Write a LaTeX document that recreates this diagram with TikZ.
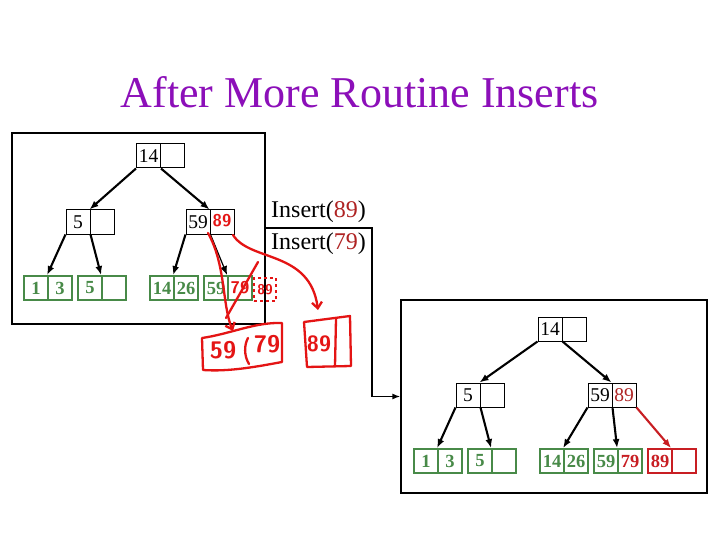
\documentclass[tikz,border=0pt]{standalone}
\usepackage{fontspec}
\setmainfont{Liberation Serif}
\usetikzlibrary{arrows.meta}
\definecolor{ttl}{RGB}{140,15,185}
\definecolor{lgreen}{RGB}{72,138,72}
\definecolor{tred}{RGB}{200,30,35}
\definecolor{dred}{RGB}{175,35,35}
\definecolor{hred}{RGB}{228,20,20}
\begin{document}
\begin{tikzpicture}[x=1pt,y=-1pt,
 cell/.style={draw=black,line width=1pt,minimum width=24pt,minimum height=24pt,inner sep=0pt,font=\fontsize{19.5}{19.5}\selectfont},
 leaf/.style={draw=lgreen,line width=1.8pt,text=lgreen,minimum width=24pt,minimum height=24pt,inner sep=0pt,font=\fontsize{18.5}{18.5}\selectfont\bfseries},
 rleaf/.style={leaf,draw=tred,text=tred},
 ptr/.style={line width=2.1pt,-{Latex[length=9pt,width=7pt]}},
 hand/.style={draw=hred,line width=2.3pt,line cap=round,line join=round},
 htext/.style={text=hred,font=\sffamily\bfseries\fontsize{17}{17}\selectfont,inner sep=0pt},
]
\useasboundingbox (0,0) rectangle (720,540);
\fill[white] (0,0) rectangle (720,540);

% title
\node[text=ttl,font=\fontsize{44}{44}\selectfont,anchor=base,inner sep=0pt] (title) at (359.5,108) {After More Routine Inserts};

% frames
\node[draw,line width=1.2pt,minimum width=253pt,minimum height=191pt,inner sep=0pt] (lbox) at (138.5,228.5) {};
\node[draw,line width=1.2pt,minimum width=306pt,minimum height=193pt,inner sep=0pt] (rbox) at (554,396.5) {};

% insert labels and connector
\node[anchor=base west,font=\fontsize{24}{24}\selectfont,inner sep=0pt] (ins1) at (271,218) {Insert(\textcolor{dred}{89})};
\node[anchor=base west,font=\fontsize{24}{24}\selectfont,inner sep=0pt] (ins2) at (271,249) {Insert(\textcolor{dred}{79})};
\coordinate (j) at (372,228);
\draw[line width=1.5pt,-{Latex[length=8pt,width=6pt]}] (lbox.east |- j) -- (j) |- (rbox.west);

% left tree
\node[cell] (La) at (148.5,156) {14};
\node[cell] (Lb) at (172.5,156) {};
\node[cell] (LIa) at (78,222) {5};
\node[cell] (LIb) at (102,222) {};
\node[cell] (RIa) at (198,222) {59};
\node[cell] (RIb) at (222,222) {};
\node[leaf] (l1a) at (36,288) {1};
\node[leaf] (l1b) at (60,288) {3};
\node[leaf] (l2a) at (90,288) {5};
\node[leaf] (l2b) at (114,288) {};
\node[leaf] (l3a) at (162,288) {14};
\node[leaf] (l3b) at (186,288) {26};
\node[leaf] (l4a) at (216,288) {59};
\node[leaf] (l4b) at (240,288) {};
\draw[ptr] (La.south west) -- (LIb.north west);
\draw[ptr] (La.south east) -- (RIb.north west);
\draw[ptr] (LIa.south west) -- (l1b.north west);
\draw[ptr] (LIa.south east) -- (l2b.north west);
\draw[ptr] (RIa.south west) -- (l3b.north west);
\draw[ptr,line width=1.2pt] (RIa.south east) -- (l4b.north west);

% right tree
\node[cell] (Ra) at (550,329) {14};
\node[cell] (Rb) at (574,329) {};
\node[cell] (RLIa) at (468,395) {5};
\node[cell] (RLIb) at (492,395) {};
\node[cell] (RRIa) at (600,395) {59};
\node[cell] (RRIb) at (624,395) {\textcolor{dred}{89}};
\node[leaf] (r1a) at (426,461) {1};
\node[leaf] (r1b) at (450,461) {3};
\node[leaf] (r2a) at (480,461) {5};
\node[leaf] (r2b) at (504,461) {};
\node[leaf] (r3a) at (552,461) {14};
\node[leaf] (r3b) at (576,461) {26};
\node[leaf] (r4a) at (606,461) {59};
\node[leaf,text=tred] (r4b) at (630,461) {79};
\node[rleaf] (r5a) at (660,461) {89};
\node[rleaf] (r5b) at (684,461) {};
\draw[ptr] (Ra.south west) -- (RLIb.north west);
\draw[ptr] (Ra.south east) -- (RRIb.north west);
\draw[ptr] (RLIa.south west) -- (r1b.north west);
\draw[ptr] (RLIa.south east) -- (r2b.north west);
\draw[ptr] (RRIa.south west) -- (r3b.north west);
\draw[ptr] (RRIa.south east) -- (r4b.north west);
\draw[ptr,draw=tred,fill=tred] (RRIb.south east) -- (r5b.north west);

% handwritten annotations
\node[htext] (h89a) at (222,221) {89};
\node[htext] (h79a) at (240,288) {79};
\node[htext,draw=hred,dashed,line width=1.5pt,minimum width=22pt,minimum height=23pt,font=\sffamily\bfseries\fontsize{14}{14}\selectfont] (h89b) at (265,289.5) {89};

\draw[hand,-{Straight Barb[length=6pt,width=10pt]}] (208,233) .. controls (226,265) and (222,305) .. (233,331);
\draw[hand] (258,262) -- (226,318);
\draw[hand,-{Straight Barb[length=6pt,width=10pt]}] (233,235) .. controls (250,262) and (310,250) .. (318,310);

% new node 59 | 79
\draw[hand] (202,338) .. controls (230,334) and (255,322) .. (282,323) -- (282,362)
  .. controls (260,366) and (230,372) .. (203,370) -- cycle;
\draw[hand] (248,338) .. controls (244,345) and (244,356) .. (249,364);
\node[htext,font=\sffamily\bfseries\fontsize{24}{24}\selectfont] (h59n) at (223,350) {59};
\node[htext,font=\sffamily\bfseries\fontsize{24}{24}\selectfont] (h79n) at (267,344) {79};

% new node 89 |
\draw[hand] (304,322) -- (350,316) -- (351,366) -- (307,367) -- cycle;
\draw[hand] (336,319) -- (335,366);
\node[htext,font=\sffamily\bfseries\fontsize{22}{22}\selectfont] (h89n) at (319,344) {89};
\end{tikzpicture}
\end{document}
